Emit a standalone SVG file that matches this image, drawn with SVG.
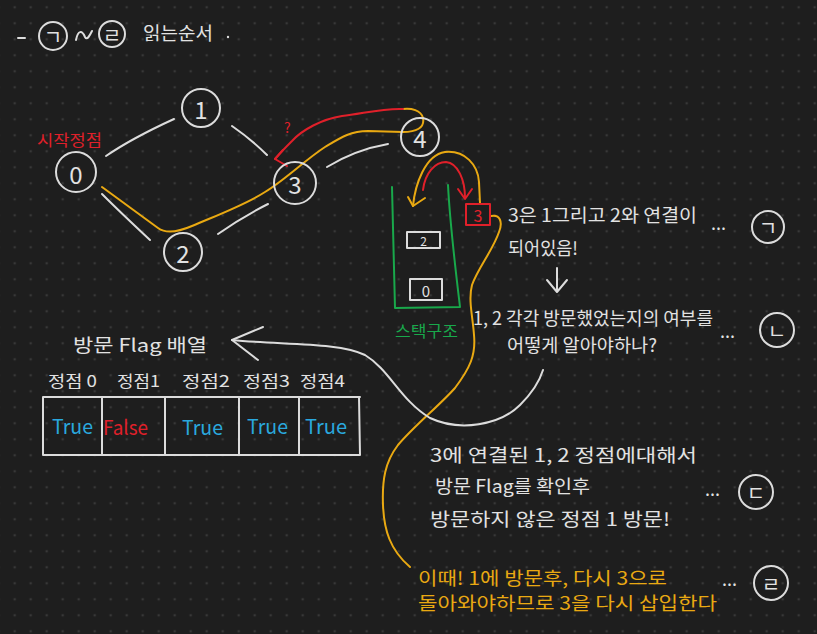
<svg xmlns="http://www.w3.org/2000/svg" width="817" height="634" viewBox="0 0 817 634">
<defs>
<pattern id="dots" x="6.7" y="-0.7" width="16" height="16" patternUnits="userSpaceOnUse">
<circle cx="8" cy="8" r="1.3" fill="#383838"/>
</pattern>
<style>
.w{stroke:#dcdcdc;stroke-width:2;fill:none;stroke-linecap:round;stroke-linejoin:round}
.r{stroke:#e0202a;stroke-width:2;fill:none;stroke-linecap:round;stroke-linejoin:round}
.y{stroke:#e9a912;stroke-width:2;fill:none;stroke-linecap:round;stroke-linejoin:round}
.g{stroke:#19a84b;stroke-width:2;fill:none;stroke-linecap:round;stroke-linejoin:round}
text{font-family:"Noto Sans CJK KR","Noto Sans",sans-serif}
.tw{fill:#e2e2e2;font-size:18px}
.ty{fill:#e9a912;font-size:18px}
.th{fill:#e2e2e2;font-size:16px}
.tv{fill:#2aa8de;font-size:20px}
.tn{fill:#e2e2e2;font-size:24px;text-anchor:middle;dominant-baseline:central}
.tc{fill:#e2e2e2;font-size:20px;text-anchor:middle;dominant-baseline:central}
</style>
</defs>
<rect width="817" height="634" fill="#1e1e1e"/>
<rect width="817" height="634" fill="url(#dots)"/>

<g id="title">
<path class="w" d="M18,38 L25,38"/>
<circle class="w" cx="53" cy="36" r="14"/>
<text class="tc" x="53" y="36" font-size="17">ㄱ</text>
<path class="w" d="M76,40 C78,30 82,30 85,37 C87,41 90,35 92,31"/>
<circle class="w" cx="112" cy="34" r="13"/>
<text class="tc" x="112" y="34" font-size="17">ㄹ</text>
<text class="tw" x="143" y="40" font-size="20" textLength="70" lengthAdjust="spacingAndGlyphs">읽는순서</text>
<circle cx="228" cy="37" r="1.2" fill="#dcdcdc"/>
</g>

<g id="connectors">
<path class="w" d="M106,156 C125,143 150,130 174,119"/>
<path class="w" d="M232,126 C245,135 258,146 267,155"/>
<path class="w" d="M102,194 C118,210 135,226 150,240"/>
<path class="w" d="M218,234 C235,222 252,212 268,204"/>
<path class="w" d="M327,167 C345,156 365,148 388,144"/>
<path class="y" d="M102,187 C120,200 140,215 158,228 C166,234 178,232 192,226 C215,216 245,205 265,192 C285,180 305,160 325,147 C340,138 350,131 368,131 L403,132 C416,132 425,128 423,118 C421,110 411,108 403,109"/>
<path class="r" d="M403,109 C382,108 362,114 342,116 C322,119 302,130 292,141 C285,148 280,153 275,159"/>
<path class="r" d="M283,150 L275,159 L287,166"/>
<text x="284" y="133" fill="#e0202a" font-size="14">?</text>
<path class="y" d="M413,206 C415,185 425,155 445,152 C465,150 478,165 479,182 L480,203"/>
<path class="y" d="M408,197 L413,206 L425,198"/>
<path class="r" d="M423,190 C425,173 435,162 446,162 C458,163 465,180 465,198"/>
<path class="r" d="M458,189 L465,199 L472,189"/>
<path class="y" d="M491,216 C500,214 503,222 499,232 C493,250 478,268 472,285 C468,300 473,318 474,335 C476,355 470,368 455,388 C440,405 415,425 398,445 C385,462 382,480 383,505 C384,530 390,550 410,567"/>
<path class="w" d="M232,340 C280,345 340,342 365,355 C390,370 400,400 430,418 C460,432 500,425 520,405 C535,390 540,380 543,370"/>
<path class="w" d="M263,327 L232,340 L258,360"/>
<path class="w" d="M557,268 L557,291 M547,280 L557,292 L567,280"/>
</g>

<g id="node0">
<circle class="w" cx="76" cy="172" r="20"/>
<text class="tn" x="76" y="173">0</text>
<text x="37" y="146" fill="#e0202a" font-size="16" textLength="65" lengthAdjust="spacingAndGlyphs">시작정점</text>
</g>
<g id="node1">
<circle class="w" cx="201" cy="108" r="19"/>
<text class="tn" x="201" y="108">1</text>
</g>
<g id="node2">
<circle class="w" cx="183" cy="252" r="19"/>
<text class="tn" x="183" y="252">2</text>
</g>
<g id="node3">
<circle class="w" cx="295" cy="183" r="21"/>
<text class="tn" x="295" y="183">3</text>
</g>
<g id="node4">
<circle class="w" cx="420" cy="137" r="19"/>
<text class="tn" x="420" y="137">4</text>
</g>

<g id="stack">
<path class="g" d="M392,187 C393,230 394,270 395,308 L460,307 C455,265 450,225 448,185"/>
<rect class="w" x="407" y="232" width="33" height="16"/>
<text x="423.5" y="240.5" fill="#e2e2e2" font-size="12" text-anchor="middle" dominant-baseline="central">2</text>
<rect class="w" x="410" y="279" width="32" height="21"/>
<text x="426" y="290" fill="#e2e2e2" font-size="15" text-anchor="middle" dominant-baseline="central">0</text>
<text x="395" y="337" fill="#19a84b" font-size="16" textLength="63" lengthAdjust="spacingAndGlyphs">스택구조</text>
<rect class="r" x="466" y="204" width="24" height="21"/>
<text x="478" y="215" fill="#e0202a" font-size="16" text-anchor="middle" dominant-baseline="central">3</text>
</g>

<g id="note-a">
<text class="tw" x="508" y="222" textLength="189" lengthAdjust="spacingAndGlyphs">3은 1그리고 2와 연결이</text>
<text class="tw" x="508" y="255" textLength="70" lengthAdjust="spacingAndGlyphs">되어있음!</text>
<text class="tw" x="711" y="230">...</text>
<circle class="w" cx="768" cy="227" r="16"/>
<text class="tc" x="768" y="227">ㄱ</text>
</g>

<g id="note-b">
<text class="tw" x="473" y="325" textLength="240" lengthAdjust="spacingAndGlyphs">1, 2 각각 방문했었는지의 여부를</text>
<text class="tw" x="507" y="352" textLength="150" lengthAdjust="spacingAndGlyphs">어떻게 알아야하나?</text>
<text class="tw" x="720" y="338">...</text>
<circle class="w" cx="777" cy="330" r="17"/>
<text class="tc" x="777" y="330">ㄴ</text>
</g>

<g id="flag-array">
<text class="tw" x="73" y="352" font-size="22" textLength="134" lengthAdjust="spacingAndGlyphs">방문 Flag 배열</text>
<text class="th" x="48" y="387" textLength="49" lengthAdjust="spacingAndGlyphs">정점 0</text>
<text class="th" x="117" y="387" textLength="43" lengthAdjust="spacingAndGlyphs">정점1</text>
<text class="th" x="182" y="387" textLength="48" lengthAdjust="spacingAndGlyphs">정점2</text>
<text class="th" x="243" y="387" textLength="47" lengthAdjust="spacingAndGlyphs">정점3</text>
<text class="th" x="300" y="387" textLength="45" lengthAdjust="spacingAndGlyphs">정점4</text>
<path class="w" d="M43,397 L360,397 M43,455 L360,455 M43,397 L43,455 M102,397 L102,455 M165,397 L165,455 M239,397 L239,455 M299,397 L299,455 M359,397 L360,455"/>
<text class="tv" x="52" y="434" textLength="41" lengthAdjust="spacingAndGlyphs">True</text>
<text x="103" y="435" fill="#e0202a" font-size="20" textLength="45" lengthAdjust="spacingAndGlyphs">False</text>
<text class="tv" x="182" y="435" textLength="41" lengthAdjust="spacingAndGlyphs">True</text>
<text class="tv" x="247" y="434" textLength="41" lengthAdjust="spacingAndGlyphs">True</text>
<text class="tv" x="305" y="434" textLength="42" lengthAdjust="spacingAndGlyphs">True</text>
</g>

<g id="note-c">
<text class="tw" x="430" y="462" textLength="267" lengthAdjust="spacingAndGlyphs">3에 연결된  1, 2 정점에대해서</text>
<text class="tw" x="435" y="493" textLength="155" lengthAdjust="spacingAndGlyphs">방문 Flag를 확인후</text>
<text class="tw" x="430" y="526" textLength="240" lengthAdjust="spacingAndGlyphs">방문하지 않은  정점 1 방문!</text>
<text class="tw" x="705" y="496">...</text>
<circle class="w" cx="756" cy="492" r="17"/>
<text class="tc" x="756" y="492">ㄷ</text>
</g>

<g id="note-d">
<text class="ty" x="418" y="585" textLength="249" lengthAdjust="spacingAndGlyphs">이때! 1에 방문후, 다시 3으로</text>
<text class="ty" x="418" y="610" textLength="299" lengthAdjust="spacingAndGlyphs">돌아와야하므로 3을 다시 삽입한다</text>
<text class="tw" x="722" y="586">...</text>
<circle class="w" cx="771" cy="583" r="17"/>
<text class="tc" x="771" y="583">ㄹ</text>
</g>
</svg>
